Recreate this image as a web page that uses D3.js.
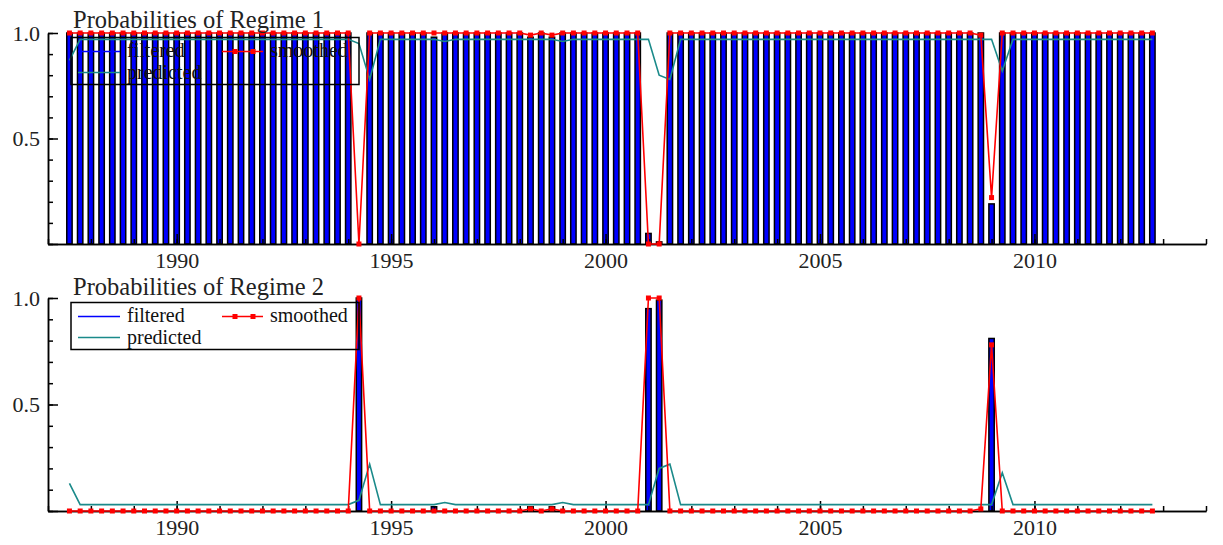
<!DOCTYPE html>
<html lang="en">
<head>
<meta charset="UTF-8">
<title>Probabilities of Regimes</title>
<script src="https://d3js.org/d3.v7.min.js"></script>
<style>
  body { margin: 0; background: #fff; }
  svg { display: block; font-family: "Liberation Serif", "Times New Roman", serif; }
  .axis path, .axis line { stroke: #000; stroke-width: 1.5; }
  .axis text { font-family: "Liberation Serif", serif; font-size: 22px; fill: #222; }
  .title { font-size: 24.5px; fill: #222; }
  .legend text { font-size: 20px; fill: #111; }
</style>
</head>
<body>
<svg id="chart" width="1223" height="545"></svg>
<script>
// quarterly data, first observation 1987Q3
const startDate = 1987.5;
const xMajorTicks = [1990, 1995, 2000, 2005, 2010];
const yMajorTicks = [0.5, 1.0];

// regime 2 probabilities (regime 1 = complement)
const filteredR2 = [
  0, 0, 0, 0, 0, 0, 0, 0, 0, 0,
  0, 0, 0, 0, 0, 0, 0, 0, 0, 0,
  0, 0, 0, 0, 0, 0, 0, 1.0, 0, 0,
  0, 0, 0, 0, 0.02, 0, 0, 0, 0, 0,
  0, 0, 0, 0.02, 0, 0.02, 0, 0, 0, 0,
  0, 0, 0, 0, 0.95, 0.99, 0, 0, 0, 0,
  0, 0, 0, 0, 0, 0, 0, 0, 0, 0,
  0, 0, 0, 0, 0, 0, 0, 0, 0, 0,
  0, 0, 0, 0, 0, 0, 0.81, 0, 0, 0,
  0, 0, 0, 0, 0, 0, 0, 0, 0, 0,
  0, 0
];
const smoothedR2 = [
  0, 0, 0, 0, 0, 0, 0, 0, 0, 0,
  0, 0, 0, 0, 0, 0, 0, 0, 0, 0,
  0, 0, 0, 0, 0, 0, 0, 1.0, 0, 0,
  0, 0, 0, 0, 0, 0, 0, 0, 0, 0,
  0, 0, 0, 0.01, 0, 0.01, 0, 0, 0, 0,
  0, 0, 0, 0, 1.0, 1.0, 0, 0, 0, 0,
  0, 0, 0, 0, 0, 0, 0, 0, 0, 0,
  0, 0, 0, 0, 0, 0, 0, 0, 0, 0,
  0, 0, 0, 0, 0, 0.01, 0.78, 0, 0, 0,
  0, 0, 0, 0, 0, 0, 0, 0, 0, 0,
  0, 0
];
const predictedR2 = [
  0.13, 0.03, 0.03, 0.03, 0.03, 0.03, 0.03, 0.03, 0.03, 0.03,
  0.03, 0.03, 0.03, 0.03, 0.03, 0.03, 0.03, 0.03, 0.03, 0.03,
  0.03, 0.03, 0.03, 0.03, 0.03, 0.03, 0.03, 0.05, 0.22, 0.03,
  0.03, 0.03, 0.03, 0.03, 0.03, 0.04, 0.03, 0.03, 0.03, 0.03,
  0.03, 0.03, 0.03, 0.03, 0.03, 0.03, 0.04, 0.03, 0.03, 0.03,
  0.03, 0.03, 0.03, 0.03, 0.03, 0.20, 0.22, 0.03, 0.03, 0.03,
  0.03, 0.03, 0.03, 0.03, 0.03, 0.03, 0.03, 0.03, 0.03, 0.03,
  0.03, 0.03, 0.03, 0.03, 0.03, 0.03, 0.03, 0.03, 0.03, 0.03,
  0.03, 0.03, 0.03, 0.03, 0.03, 0.03, 0.03, 0.18, 0.03, 0.03,
  0.03, 0.03, 0.03, 0.03, 0.03, 0.03, 0.03, 0.03, 0.03, 0.03,
  0.03, 0.03
];

const dates = filteredR2.map((_, i) => startDate + i / 4);

const svg = d3.select("#chart");
const x = d3.scaleLinear().domain([1987, 2014]).range([48, 1206]);
const barW = (x(0.25) - x(0)) * 0.5;

const panels = [
  { title: "Probabilities of Regime 1", top: 33, bottom: 244, titleY: 28,
    filtered: filteredR2.map(p => 1 - p), smoothed: smoothedR2.map(p => 1 - p), predicted: predictedR2.map(p => 1 - p) },
  { title: "Probabilities of Regime 2", top: 298, bottom: 511, titleY: 295,
    filtered: filteredR2, smoothed: smoothedR2, predicted: predictedR2 }
];

panels.forEach(p => {
  const y = d3.scaleLinear().domain([0, 1]).range([p.bottom, p.top]);
  const g = svg.append("g");

  // bars for filtered probabilities
  g.selectAll(".bar")
    .data(dates)
    .enter()
    .append("rect")
    .attr("x", d => x(d) - barW / 2)
    .attr("y", (d, i) => y(p.filtered[i]))
    .attr("width", barW)
    .attr("height", (d, i) => y(0) - y(p.filtered[i]))
    .attr("fill", "#0000ff")
    .attr("stroke", "#000")
    .attr("stroke-width", 1.5);

  // axes, ticks point inwards
  const xMinor = d3.range(1987, 2015);
  g.append("g").attr("class", "axis")
    .attr("transform", `translate(0,${p.bottom})`)
    .call(d3.axisBottom(x).tickValues(xMinor).tickSize(-5).tickSizeOuter(0).tickFormat(""));
  g.append("g").attr("class", "axis")
    .attr("transform", `translate(0,${p.bottom})`)
    .call(d3.axisBottom(x).tickValues(xMajorTicks).tickSize(-10).tickSizeOuter(0).tickFormat(d3.format("d")))
    .call(a => a.selectAll("text").attr("y", 24).attr("dy", 0));

  g.append("g").attr("class", "axis")
    .attr("transform", `translate(${x(1987)},0)`)
    .call(d3.axisLeft(y).tickValues(d3.range(0, 1.01, 0.1)).tickSize(-5).tickSizeOuter(0).tickFormat(""));
  g.append("g").attr("class", "axis")
    .attr("transform", `translate(${x(1987)},0)`)
    .call(d3.axisLeft(y).tickValues([0].concat(yMajorTicks)).tickSize(-10).tickSizeOuter(0)
      .tickFormat(d => d === 0 ? "" : d3.format(".1f")(d)))
    .call(a => a.selectAll("text").attr("x", -8));

  // predicted
  const line = d3.line().x((d, i) => x(dates[i])).y(d => y(d));
  g.append("path")
    .datum(p.predicted)
    .attr("d", line)
    .attr("fill", "none")
    .attr("stroke", "#1a8a8a")
    .attr("stroke-width", 1.6);

  // smoothed
  g.append("path")
    .datum(p.smoothed)
    .attr("d", line)
    .attr("fill", "none")
    .attr("stroke", "#ff0000")
    .attr("stroke-width", 1.6);
  g.selectAll(".mk")
    .data(p.smoothed)
    .enter()
    .append("rect")
    .attr("x", (d, i) => x(dates[i]) - 2.5)
    .attr("y", d => y(d) - 2.5)
    .attr("width", 5)
    .attr("height", 5)
    .attr("fill", "#ff0000");

  // title
  svg.append("text")
    .attr("class", "title")
    .attr("x", 73)
    .attr("y", p.titleY)
    .text(p.title);

  // legend
  const lg = svg.append("g").attr("class", "legend")
    .attr("transform", `translate(71,${p.top + 4.5})`);
  lg.append("rect")
    .attr("width", 288).attr("height", 47)
    .attr("fill", "none").attr("stroke", "#000").attr("stroke-width", 1.5);
  lg.append("line").attr("x1", 7).attr("x2", 49).attr("y1", 14).attr("y2", 14)
    .attr("stroke", "#0000ff").attr("stroke-width", 1.6);
  lg.append("text").attr("x", 56).attr("y", 19).text("filtered");
  lg.append("line").attr("x1", 7).attr("x2", 49).attr("y1", 35).attr("y2", 35)
    .attr("stroke", "#1a8a8a").attr("stroke-width", 1.6);
  lg.append("text").attr("x", 56).attr("y", 41).text("predicted");
  lg.append("line").attr("x1", 151).attr("x2", 192).attr("y1", 14).attr("y2", 14)
    .attr("stroke", "#ff0000").attr("stroke-width", 1.6);
  [164, 182].forEach(mx => {
    lg.append("rect").attr("x", mx - 2.5).attr("y", 11.5).attr("width", 5).attr("height", 5).attr("fill", "#ff0000");
  });
  lg.append("text").attr("x", 199).attr("y", 19).text("smoothed");
});
</script>
</body>
</html>
